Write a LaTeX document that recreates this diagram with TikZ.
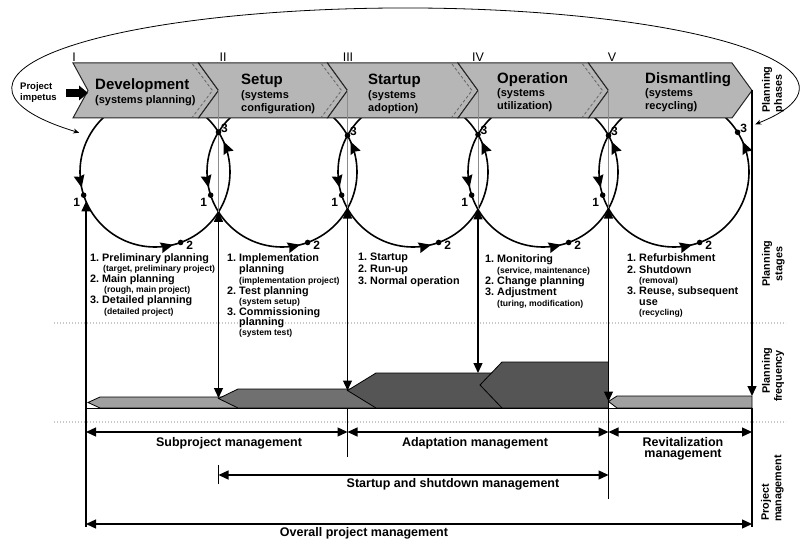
\documentclass[tikz,border=0pt]{standalone}
\usepackage{fontspec}
\setmainfont{Liberation Sans}
\usetikzlibrary{arrows.meta,calc}
\definecolor{bandgray}{HTML}{B6B6B6}
\definecolor{flight}{HTML}{A0A0A0}
\definecolor{fmid}{HTML}{707070}
\definecolor{fdark}{HTML}{555555}
\definecolor{dotgray}{HTML}{C8C8C8}
\newcommand\nbx[1]{\makebox[12pt][l]{#1}}
\begin{document}
\begin{tikzpicture}[x=1pt,y=1pt,
 dh/.style={{Triangle[length=10pt,width=9pt]}-{Triangle[length=10pt,width=9pt]}},
 uh/.style={-{Triangle[length=10pt,width=9pt]}},
 thk/.style={line width=1.3pt},
 circ/.style={line width=1.6pt},
 band/.style={fill=bandgray, draw=black!85, line width=1pt, line join=miter},
 dsh/.style={draw=black!60, dash pattern=on 3pt off 2pt, line width=0.8pt},
 guide/.style={draw=black!45, line width=0.5pt},
 freq/.style={draw=black, line width=0.8pt, line join=miter},
 sepline/.style={draw=dotgray, line width=1.4pt, dash pattern=on 1.4pt off 1.6pt},
 roman/.style={font=\fontsize{12.5}{12.5}\selectfont, inner sep=0},
 hd/.style={font=\bfseries\fontsize{15}{15}\selectfont, anchor=base west, inner sep=0},
 hs/.style={font=\bfseries\fontsize{11}{11}\selectfont, anchor=base west, inner sep=0},
 pi/.style={font=\bfseries\fontsize{9.5}{9.5}\selectfont, anchor=base west, inner sep=0},
 st/.style={font=\bfseries\fontsize{10.8}{11}\selectfont, anchor=base west, inner sep=0},
 ss/.style={font=\bfseries\fontsize{8.6}{9}\selectfont, anchor=base west, inner sep=0},
 num/.style={font=\bfseries\fontsize{12}{12}\selectfont, inner sep=0},
 side/.style={font=\bfseries\fontsize{10.8}{11}\selectfont, inner sep=0, rotate=90},
 mg/.style={font=\bfseries\fontsize{12.5}{13}\selectfont, anchor=base, inner sep=0},
]
\useasboundingbox (0,0) rectangle (800,-540);

% separators
\draw[sepline] (54,-323) -- (786,-323);
\draw[sepline] (54,-422) -- (786,-422);

% big return loop
\coordinate (e0) at (755.2,-124.3);
\draw[line width=0.8pt, {Stealth[length=6pt,width=5pt]}-{Stealth[length=6pt,width=5pt]}]
  (e0) arc[start angle=-27, end angle=214, x radius=393, y radius=80];

% circles
\coordinate (c1) at (155,-172);
\coordinate (c2) at (282,-172);
\coordinate (c3) at (413,-172);
\coordinate (c4) at (543,-172);
\coordinate (c5) at (674,-172);
\foreach \c in {c1,c2,c3,c4,c5}{
  \draw[circ] (\c) circle[radius=75];
  \foreach \a in {192,284,24}{
    \fill[shift={($(\c)+(\a:75)$)}, rotate=\a+90] (0,0) -- (-12.5,5.5) -- (-11,0) -- (-12.5,-5.5) -- cycle;
  }
}

% planning phases band
\draw[band] (73,-63) -- (198.5,-63) -- (218.5,-90.5) -- (198.5,-118) -- (73,-118) -- (88,-90.5) -- cycle;
\draw[band] (198.5,-63) -- (327.5,-63) -- (347.5,-90.5) -- (327.5,-118) -- (198.5,-118) -- (218.5,-90.5) -- cycle;
\draw[band] (327.5,-63) -- (458,-63) -- (478,-90.5) -- (458,-118) -- (327.5,-118) -- (347.5,-90.5) -- cycle;
\draw[band] (458,-63) -- (588.5,-63) -- (608.5,-90.5) -- (588.5,-118) -- (458,-118) -- (478,-90.5) -- cycle;
\draw[band] (588.5,-63) -- (732,-63) -- (752,-90.5) -- (732,-118) -- (588.5,-118) -- (608.5,-90.5) -- cycle;
\foreach \r in {198.5,327.5,458,588.5}
  \draw[dsh] (\r-6,-64) -- (\r+14,-90.5) -- (\r-6,-117);

\node[roman] (r1) at (74,-57) {I};
\node[roman] (r2) at (223,-57) {II};
\node[roman] (r3) at (348,-57) {III};
\node[roman] (r4) at (478,-57) {IV};
\node[roman] (r5) at (612,-57) {V};

\node[hd] (dev) at (95,-90) {Development};
\node[hs] (devs) at (95,-104) {(systems planning)};
\node[hd] (set) at (241,-85) {Setup};
\node[hs] (set1) at (241,-99) {(systems};
\node[hs] (set2) at (241,-111.5) {configuration)};
\node[hd] (stu) at (368,-85) {Startup};
\node[hs] (stu1) at (368,-99) {(systems};
\node[hs] (stu2) at (368,-111.5) {adoption)};
\node[hd] (ope) at (497,-84) {Operation};
\node[hs] (ope1) at (497,-97) {(systems};
\node[hs] (ope2) at (497,-109.5) {utilization)};
\node[hd] (dis) at (645,-84) {Dismantling};
\node[hs] (dis1) at (645,-97) {(systems};
\node[hs] (dis2) at (645,-109.5) {recycling)};

\node[pi] (pj1) at (20,-89.5) {Project};
\node[pi] (pj2) at (20,-101) {impetus};
\fill (66,-89) rectangle (80,-97);
\fill (79,-85.5) -- (88,-93) -- (79,-100.5) -- cycle;

% key coordinates
\coordinate (t1) at (218.5,-90.5);
\coordinate (t2) at (347.5,-90.5);
\coordinate (t3) at (478,-90.5);
\coordinate (t4) at (608.5,-90.5);
\coordinate (t5) at (752,-90.5);
\coordinate (u1) at (218.5,-132.1);
\coordinate (u2) at (347.5,-135.5);
\coordinate (u3) at (478,-134.6);
\coordinate (u4) at (608.5,-135.5);
\coordinate (u5) at (737.6,-132.3);
\coordinate (w1) at (218.5,-211.9);
\coordinate (w2) at (347.5,-208.5);
\coordinate (w3) at (478,-209.4);
\coordinate (w4) at (608.5,-208.5);
\coordinate (f1) at (218.5,-398);
\coordinate (f2) at (347.5,-390.5);
\coordinate (f3) at (478,-373);
\coordinate (f4) at (608.5,-401.5);
\coordinate (f5) at (752,-396);
\coordinate (lt) at (86,-201.4);
\coordinate (lb) at (86,-527);

\foreach \i in {1,2,3,4} \draw[guide] (t\i) -- (w\i);

% dots and labels
\foreach \i in {1,2,3,4,5}{
  \fill ($(c\i)+(198:75)$) circle[radius=2.8];
  \fill ($(c\i)+(290:75)$) circle[radius=2.8];
  \fill (u\i) circle[radius=2.8];
  \node[num] (one\i) at ($(c\i)+(198:75)+(-7,-7)$) {1};
  \node[num] (two\i) at ($(c\i)+(290:75)+(9,-3)$) {2};
  \node[num] (three\i) at ($(u\i)+(6,4)$) {3};
}

% planning stages texts
\node[st] (a1) at (90,-261.8) {\nbx{1.}Preliminary planning};
\node[ss] (a1s) at (103,-271) {(target, preliminary project)};
\node[st] (a2) at (90,-282.8) {\nbx{2.}Main planning};
\node[ss] (a2s) at (104,-292) {(rough, main project)};
\node[st] (a3) at (90,-303.8) {\nbx{3.}Detailed planning};
\node[ss] (a3s) at (104,-314) {(detailed project)};

\node[st] (b1) at (227,-261.8) {\nbx{1.}Implementation};
\node[st] (b1b) at (239,-272.8) {planning};
\node[ss] (b1s) at (239,-283) {(implementation project)};
\node[st] (b2) at (227,-294.8) {\nbx{2.}Test planning};
\node[ss] (b2s) at (239,-304) {(system setup)};
\node[st] (b3) at (227,-315) {\nbx{3.}Commissioning};
\node[st] (b3b) at (239,-325.5) {planning};
\node[ss] (b3s) at (239,-335) {(system test)};

\node[st] (s1) at (358,-260.8) {\nbx{1.}Startup};
\node[st] (s2) at (358,-272.8) {\nbx{2.}Run-up};
\node[st] (s3) at (358,-284.8) {\nbx{3.}Normal operation};

\node[st] (o1) at (485,-262.8) {\nbx{1.}Monitoring};
\node[ss] (o1s) at (497,-273) {(service, maintenance)};
\node[st] (o2) at (485,-284.8) {\nbx{2.}Change planning};
\node[st] (o3) at (485,-295.8) {\nbx{3.}Adjustment};
\node[ss] (o3s) at (497,-306) {(turing, modification)};

\node[st] (d1) at (627,-261.5) {\nbx{1.}Refurbishment};
\node[st] (d2) at (627,-273.3) {\nbx{2.}Shutdown};
\node[ss] (d2s) at (639,-283) {(removal)};
\node[st] (d3) at (627,-294.8) {\nbx{3.}Reuse, subsequent};
\node[st] (d3b) at (639,-305.8) {use};
\node[ss] (d3s) at (639,-315) {(recycling)};

% planning frequency
\draw[freq, fill=flight] (88,-402.5) -- (100,-397) -- (238,-397) -- (238,-408) -- (100,-408) -- cycle;
\draw[freq, fill=fmid] (218.5,-398.5) -- (238,-389) -- (376,-389) -- (376,-408) -- (238,-408) -- cycle;
\draw[freq, fill=fdark] (347.5,-390.5) -- (376,-373) -- (502,-373) -- (502,-408) -- (376,-408) -- cycle;
\draw[freq, fill=fdark] (480,-385) -- (502,-362) -- (608.5,-362) -- (608.5,-408) -- (502,-408) -- cycle;
\draw[freq, fill=flight] (608.5,-401.5) -- (617,-396) -- (752,-396) -- (752,-408) -- (617,-408) -- cycle;
\draw[line width=1pt] (86,-408) -- (752,-408);

% vertical connectors
\draw[thk,uh] (lb) -- (lt);
\foreach \i in {1,2,3,4} \draw[thk,dh] (w\i) -- (f\i);
\draw[thk,uh] (t5) -- (f5);
\draw[thk] (752,-408) -- (752,-527);
\draw[thk] (347.5,-408) -- (347.5,-457);
\draw[thk] (608.5,-408) -- (608.5,-499);

% project management
\coordinate (m0) at (86,-432);
\coordinate (m1) at (347.5,-432);
\coordinate (m2) at (608.5,-432);
\coordinate (m3) at (752,-432);
\draw[thk,dh] (m0) -- (m1);
\draw[thk,dh] (m1) -- (m2);
\draw[thk,dh] (m2) -- (m3);
\coordinate (k0) at (218.5,-465);
\coordinate (k1) at (218.5,-484);
\draw[thk] (k0) -- (k1);
\coordinate (s0) at (218.5,-475);
\coordinate (s9) at (608.5,-475);
\draw[thk,dh] (s0) -- (s9);
\coordinate (g0) at (86,-524);
\coordinate (g1) at (752,-524);
\draw[thk,dh] (g0) -- (g1);

\node[mg] (sub) at (229,-446.5) {Subproject management};
\node[mg] (ada) at (475,-446.5) {Adaptation management};
\node[mg] (rev1) at (683,-446) {Revitalization};
\node[mg] (rev2) at (683,-457.5) {management};
\node[mg] (sas) at (453,-487.5) {Startup and shutdown management};
\node[mg] (ovr) at (364,-536) {Overall project management};

% side labels
\node[side] (ph1) at (767,-89.5) {Planning};
\node[side] (ph2) at (779,-93.5) {phases};
\node[side] (sg1) at (767,-263.5) {Planning};
\node[side] (sg2) at (780,-264) {stages};
\node[side] (fq1) at (767,-370.5) {Planning};
\node[side] (fq2) at (779,-376) {frequency};
\node[side] (pm1) at (766,-502.5) {Project};
\node[side] (pm2) at (779,-488.5) {management};
\end{tikzpicture}
\end{document}
